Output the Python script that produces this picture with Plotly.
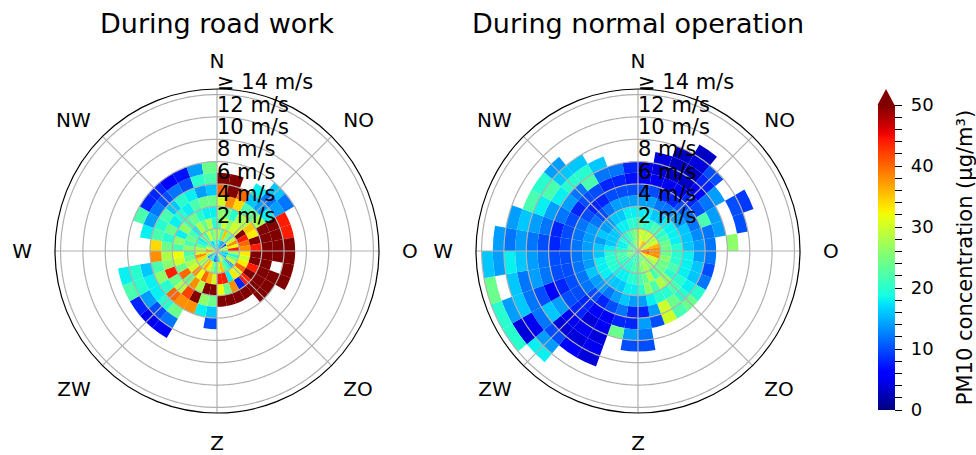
import numpy as np
import plotly.graph_objects as go

# ---------------- data ----------------
DIR_LABELS = ["N", "NO", "\u00a0O", "ZO", "Z", "ZW", "W\u00a0", "NW"]
DIR_TICKS = [0, 45, 90, 135, 180, 225, 270, 315]
SPEED_TICKS = [2, 4, 6, 8, 10, 12, 14]
SPEED_LABELS = ["2 m/s", "4 m/s", "6 m/s", "8 m/s", "10 m/s", "12 m/s", "\u2265 14 m/s"]
SPEED_MAX = 14.5
DIR_BIN_DEG = 10      # direction bins (clockwise from N)
SPEED_BIN = 1         # m/s per speed bin
_ = None

# PM10 concentration per direction bin (rows, 0-10deg, 10-20deg, ...) and speed bin (columns)
road_work = [
    [20, 28, 22, 26, 30, 40, 55],
    [18, 22, 30, 24, 38, 55, 55],
    [15, 35, 26, 20, 34, 40],
    [14, 25, 30, 28, 22, 16, 18],
    [12, 20, 30, 28, 24, 14, 12, 16],
    [10, 30, 55, 35, 28, 18, 14, 12],
    [30, 38, 44, 33, 55, 55, 44],
    [25, 32, 40, 55, 55, 55, 44],
    [30, 44, 38, 44, 55, 55, 55],
    [20, 28, 33, 55, 55, 55, 55],
    [15, 20, 30, 55, 55, _, 55],
    [18, 25, 33, 44, 55, 55, 55],
    [15, 30, 40, 55, 55, 55],
    [22, 14, 30, 44, 55, 55],
    [25, 20, 33, 8, 55],
    [30, 24, 18, 38, 55],
    [20, 35, 44, 24, 55],
    [15, 28, 44, 32, 55],
    [10, 22, 30, 55, 24, 16, 10],
    [12, 26, 36, 55, 26, 18],
    [18, 33, 40, 28, 55, 38],
    [20, 36, 32, 38, 42, 38, 24, 12, 6],
    [16, 30, 38, 24, 28, 40, 20, 10, 5],
    [14, 26, 30, 40, 24, 20, 18, 14, 8],
    [24, 34, 28, 24, 44, 26, 18, 20, 22],
    [30, 38, 24, 30, 26, 22, 16, 20, 18],
    [36, 30, 22, 32, 28, 38],
    [38, 28, 26, 22, 24, 34],
    [30, 24, 22, 26, 20, 22, 18],
    [26, 20, 24, 18, 24, 20, 14, 22],
    [24, 18, 22, 26, 18, 22, 12, 8],
    [20, 26, 18, 22, 20, 16, 10, 8],
    [18, 22, 28, 24, 18, 20, 12, 6],
    [16, 30, 24, 20, 22, 18, 10, 7],
    [22, 24, 28, 18, 24, 14, 20, 14],
    [20, 26, 20, 18, 24, 16, 22, 24],
]

normal_operation = [
    [30, 30, 22, 18, 14, 10, 6, 5],
    [32, 30, 20, 18, 14, 10, 5, 4, 4],
    [34, 28, 20, 16, 12, 8, 5, 3, 3, 3],
    [36, 30, 22, 16, 12, 8, 6, 3, 3, 4, 3],
    [36, 30, 22, 18, 14, 10, 8, 6, 8, 10],
    [30, 28, 20, 18, 14, 12, 10, 12, 14],
    [28, 30, 22, 18, 16, 12, 22, 14, _, 10, 9],
    [34, 36, 24, 18, 16, 13, 12, 14, _, 10],
    [40, 38, 24, 20, 16, 14, 12, _, 26],
    [42, 38, 24, 20, 18, 14, 12],
    [40, 38, 26, 20, 18, 16, 10],
    [34, 30, 24, 22, 18, 16, 12],
    [30, 28, 24, 20, 20, 18, 20],
    [28, 26, 24, 26, 22, 20, 24],
    [26, 26, 22, 28, 20, 24, 22],
    [24, 28, 28, 22, 20, 30, 30],
    [24, 26, 24, 26, 18, 14, 10],
    [22, 24, 22, 20, 14, 8, 14, 12, 10],
    [22, 22, 20, 18, 14, 8, 8, 14, 10],
    [20, 22, 20, 18, 16, 12, 8, 24],
    [22, 20, 18, 16, 14, 10, 6, 5, 4, 5, 4],
    [20, 20, 18, 16, 12, 8, 6, 4, 5, 4, 6],
    [22, 20, 18, 16, 14, 10, 8, 8, 5, 4, 10, 14, 18],
    [24, 20, 20, 18, 14, 12, 10, 10, 14, 16, 12, 5, 4, 20],
    [24, 22, 20, 18, 16, 12, 10, 8, 6, 10, 12, 16, 14, 20],
    [26, 22, 20, 18, 14, 12, 10, 10, 12, 14, 12, 16, _, 24],
    [24, 22, 20, 16, 14, 12, 10, 10, 12, 14, 16, 18, 14, 16],
    [22, 20, 18, 16, 14, 12, 10, 8, 10, 12, 14, 12, 14],
    [22, 18, 16, 14, 14, 12, 10, 8, 12, 14, 16, 14],
    [24, 18, 16, 16, 14, 12, 10, 12, 14, 18, 22],
    [22, 20, 16, 14, 12, 10, 8, 14, 18, 22, 20],
    [20, 18, 16, 14, 10, 8, 10, 12, 20, 16, 14],
    [22, 20, 18, 16, 12, 8, 10, 22, 20, 16],
    [24, 22, 18, 16, 14, 10, 8, 12, 16],
    [26, 24, 20, 18, 14, 10, 8, 12],
    [28, 26, 20, 18, 14, 10, 7, 8],
]

TITLES = ["During road work", "During normal operation"]
CMIN, CMAX = 0, 50

# ---------------- matplotlib 'jet' colorscale ----------------
_jet = {
    "r": ([0, 0.35, 0.66, 0.89, 1], [0, 0, 1, 1, 0.5]),
    "g": ([0, 0.125, 0.375, 0.64, 0.91, 1], [0, 0, 1, 1, 0, 0]),
    "b": ([0, 0.11, 0.34, 0.65, 1], [0.5, 1, 1, 0, 0]),
}
pts = sorted(set(np.linspace(0, 1, 41).tolist() + [0.11, 0.125, 0.34, 0.35, 0.375, 0.64, 0.65, 0.66, 0.89, 0.91]))
jet = []
for p in pts:
    c = [int(round(255 * np.interp(p, *_jet[ch]))) for ch in "rgb"]
    jet.append([p, f"rgb({c[0]},{c[1]},{c[2]})"])

FONT = "DejaVu Sans"
GRID = "#b0b0b0"

fig = go.Figure()


def add_rose(grid, polar):
    th, base, rr, col = [], [], [], []
    for d, row in enumerate(grid):
        for k, v in enumerate(row):
            if v is None:
                continue
            th.append(d * DIR_BIN_DEG + DIR_BIN_DEG / 2)
            base.append(k * SPEED_BIN)
            rr.append(SPEED_BIN)
            col.append(v)
    fig.add_trace(go.Barpolar(
        theta=th, r=rr, base=base, width=[DIR_BIN_DEG] * len(th),
        marker=dict(color=col, coloraxis="coloraxis", line=dict(width=0)),
        subplot=polar, showlegend=False, hoverinfo="skip"))
    # grid drawn above the cells (as matplotlib does)
    ring_theta = list(np.arange(0, 361, 1.0))
    for v in SPEED_TICKS:
        fig.add_trace(go.Scatterpolar(
            r=[v] * len(ring_theta), theta=ring_theta, mode="lines",
            line=dict(color=GRID, width=1.2), subplot=polar,
            showlegend=False, hoverinfo="skip"))
    for t in DIR_TICKS:
        fig.add_trace(go.Scatterpolar(
            r=[0, SPEED_MAX], theta=[t, t], mode="lines",
            line=dict(color=GRID, width=1.2), subplot=polar,
            showlegend=False, hoverinfo="skip"))
    fig.add_trace(go.Scatterpolar(
        r=SPEED_TICKS, theta=[0] * len(SPEED_TICKS),
        text=SPEED_LABELS, mode="text", textposition="top right",
        marker=dict(size=1),
        textfont=dict(family=FONT, size=21, color="black"),
        cliponaxis=False, subplot=polar, showlegend=False, hoverinfo="skip"))


add_rose(road_work, "polar")
add_rose(normal_operation, "polar2")

W, H = 976, 455
R = 162
centers = [217, 638]
cy = 251


def polar_layout(cx):
    return dict(
        domain=dict(x=[(cx - R) / W, (cx + R) / W], y=[1 - (cy + R) / H, 1 - (cy - R) / H]),
        bgcolor="white",
        radialaxis=dict(range=[0, SPEED_MAX], tickvals=SPEED_TICKS, showticklabels=False, ticks="",
                        showline=False, showgrid=False),
        angularaxis=dict(rotation=90, direction="clockwise", tickvals=DIR_TICKS, ticktext=DIR_LABELS,
                         ticks="outside", ticklen=12, tickcolor="rgba(0,0,0,0)",
                         tickfont=dict(family=FONT, size=20, color="black"),
                         showline=True, linecolor="black", linewidth=1.2,
                         showgrid=False),
    )


cb_top, cb_bot = 105, 410
cb_x0, cb_x1 = 877.5, 894.5
NB = "\u00a0"
fig.update_layout(
    width=W, height=H, margin=dict(l=0, r=0, t=0, b=0),
    paper_bgcolor="white", plot_bgcolor="white",
    font=dict(family=FONT, color="black"),
    polar=polar_layout(centers[0]),
    polar2=polar_layout(centers[1]),
    coloraxis=dict(
        colorscale=jet, cmin=CMIN, cmax=CMAX,
        colorbar=dict(
            x=cb_x0 / W, xanchor="left", y=1 - (cb_top + cb_bot) / 2 / H, yanchor="middle",
            len=(cb_bot - cb_top) / H, lenmode="fraction", thickness=cb_x1 - cb_x0,
            xpad=0, ypad=0, outlinewidth=0,
            tickvals=list(range(CMIN, CMAX + 1, 2)),
            ticktext=[(NB + str(v) + NB * 3) if v % 10 == 0 else "" for v in range(CMIN, CMAX + 1, 2)],
            ticks="outside", ticklen=7, tickwidth=1, tickcolor="black",
            tickfont=dict(family=FONT, size=18, color="black"),
            title=dict(text="PM10 concentration (\u03bcg/m\u00b3)", side="right",
                       font=dict(family=FONT, size=21, color="black")),
        ),
    ),
    annotations=[
        dict(text=TITLES[i], x=centers[i] / W, y=1 - 23 / H, xref="paper", yref="paper",
             showarrow=False, xanchor="center", yanchor="middle",
             font=dict(family=FONT, size=27, color="black"))
        for i in range(2)
    ],
    shapes=[dict(type="path", xref="paper", yref="paper",
                 path=f"M {cb_x0 / W},{1 - cb_top / H} L {cb_x1 / W},{1 - cb_top / H} "
                      f"L {(cb_x0 + cb_x1) / 2 / W},{1 - 89 / H} Z",
                 fillcolor="rgb(128,0,0)", line=dict(width=0))],
)

fig.write_html("out.html")
